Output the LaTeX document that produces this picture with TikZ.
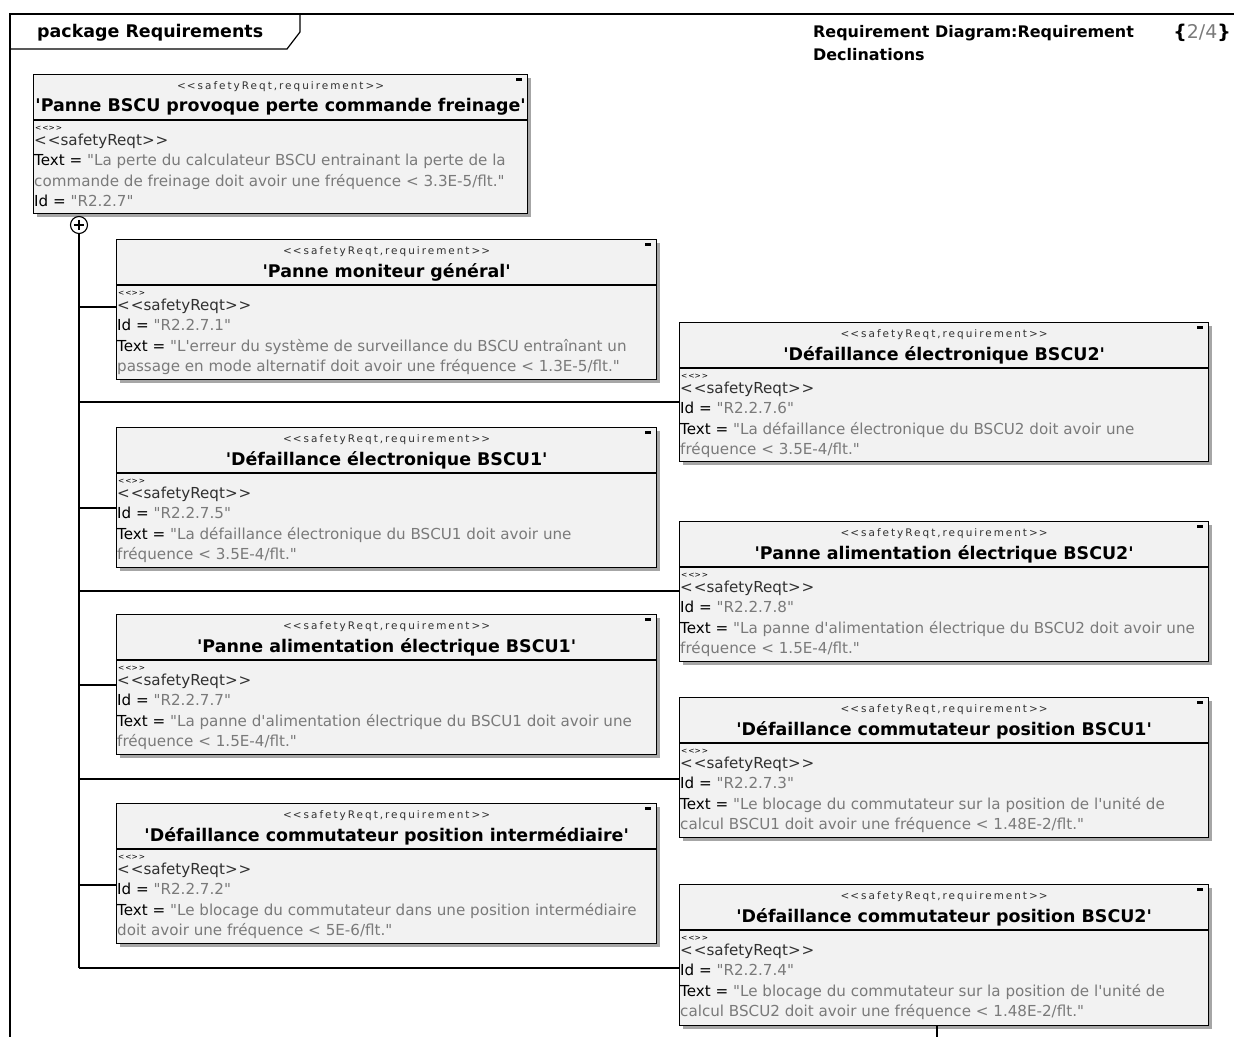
\documentclass[tikz,border=0pt]{standalone}
\usepackage{fontspec}
\setmainfont{DejaVu Sans}[Ligatures=TeXOff]
\newfontfamily\stfont{DejaVu Sans}[Ligatures=TeXOff,LetterSpace=19]
\usetikzlibrary{shadows}
\definecolor{boxfill}{HTML}{F2F2F2}
\definecolor{valgray}{HTML}{7A7A7A}
\definecolor{stgray}{HTML}{303030}
\newcommand\stl{<\kern1bp<}
\newcommand\stg{>\kern1bp>}
\newcommand\V[1]{\textcolor{valgray}{#1}}
\newcommand\SR{\textcolor{stgray}{\stl safetyReqt\stg}}
\tikzset{
 rbox/.style={draw=black, line width=1.3bp, fill=boxfill, inner sep=0pt, drop shadow={shadow xshift=3bp, shadow yshift=-3bp, fill=black!35, opacity=1}},
 bline/.style={line width=1.3bp},
 conn/.style={line width=1.2bp},
 stereo/.style={inner sep=0pt, font=\stfont\fontsize{10.5}{11}\selectfont, text=stgray},
 rtitle/.style={inner sep=0pt, font=\bfseries\fontsize{17.5}{18}\selectfont},
 emptyst/.style={inner sep=0pt, anchor=west, font=\fontsize{7.5}{8}\selectfont},
 body/.style={inner sep=0pt, anchor=base west, align=left, font=\fontsize{15.2}{20.5}\selectfont},
 hdr/.style={inner sep=0pt, font=\bfseries\fontsize{16}{22}\selectfont},
}
% name, x1, y1, x2, y2, title, body
\newcommand\reqbox[7]{%
 \node[rbox, anchor=north west, minimum width={(#4-#2)*1bp}, minimum height={(#5-#3)*1bp}] (#1) at (#2,#3) {};
 \draw[bline] ([yshift=-46bp]#1.north west) -- ([yshift=-46bp]#1.north east);
 \node[stereo] (#1-st) at ([yshift=-13bp]#1.north) {\stl safetyReqt,requirement\stg};
 \node[rtitle] (#1-ti) at ([yshift=-33bp]#1.north) {#6};
 \node[emptyst] (#1-e) at ([xshift=2bp, yshift=-54bp]#1.north west) {\stl\stg};
 \node[body] (#1-b) at ([xshift=1bp,yshift=-132.5bp]#1.north west) {#7};
 \fill ([xshift=-12bp,yshift=-4bp]#1.north east) rectangle ++(6bp,-3bp);
}
\begin{document}
\begin{tikzpicture}[x=1bp,y=-1bp]
\useasboundingbox (0,0) rectangle (1234,1037);
% frame
\draw[conn] (10,1037) -- (10,14) -- (1234,14);
\draw[conn] (300,14) -- (300,32) -- (287,49) -- (10,49);
\node[hdr, anchor=west, font=\bfseries\fontsize{17.5}{22}\selectfont] (pkg) at (37,33) {package Requirements};
\node[hdr, anchor=west] (dg1) at (813,33) {Requirement Diagram:Requirement};
\node[hdr, anchor=east, font=\bfseries\fontsize{19}{22}\selectfont] (dg3) at (1231,33) {\{\textcolor{valgray}{\mdseries 2/4}\}};
\node[hdr, anchor=west] (dg2) at (813,55) {Declinations};

\reqbox{root}{33}{74}{527}{213}{'Panne BSCU provoque perte commande freinage'}{\SR\\
Text = \V{"La perte du calculateur BSCU entrainant la perte de la}\\
\V{commande de freinage doit avoir une fréquence < 3.3E-5/flt."}\\
Id = \V{"R2.2.7"}}

\reqbox{l1}{116}{239}{656}{379}{'Panne moniteur général'}{\SR\\
Id = \V{"R2.2.7.1"}\\
Text = \V{"L'erreur du système de surveillance du BSCU entraînant un}\\
\V{passage en mode alternatif doit avoir une fréquence < 1.3E-5/flt."}}

\reqbox{l2}{116}{427}{656}{567}{'Défaillance électronique BSCU1'}{\SR\\
Id = \V{"R2.2.7.5"}\\
Text = \V{"La défaillance électronique du BSCU1 doit avoir une}\\
\V{fréquence < 3.5E-4/flt."}}

\reqbox{l3}{116}{614}{656}{754}{'Panne alimentation électrique BSCU1'}{\SR\\
Id = \V{"R2.2.7.7"}\\
Text = \V{"La panne d'alimentation électrique du BSCU1 doit avoir une}\\
\V{fréquence < 1.5E-4/flt."}}

\reqbox{l4}{116}{803}{656}{943}{'Défaillance commutateur position intermédiaire'}{\SR\\
Id = \V{"R2.2.7.2"}\\
Text = \V{"Le blocage du commutateur dans une position intermédiaire}\\
\V{doit avoir une fréquence < 5E-6/flt."}}

\reqbox{r1}{679}{322}{1208}{461}{'Défaillance électronique BSCU2'}{\SR\\
Id = \V{"R2.2.7.6"}\\
Text = \V{"La défaillance électronique du BSCU2 doit avoir une}\\
\V{fréquence < 3.5E-4/flt."}}

\reqbox{r2}{679}{521}{1208}{661}{'Panne alimentation électrique BSCU2'}{\SR\\
Id = \V{"R2.2.7.8"}\\
Text = \V{"La panne d'alimentation électrique du BSCU2 doit avoir une}\\
\V{fréquence < 1.5E-4/flt."}}

\reqbox{r3}{679}{697}{1208}{837}{'Défaillance commutateur position BSCU1'}{\SR\\
Id = \V{"R2.2.7.3"}\\
Text = \V{"Le blocage du commutateur sur la position de l'unité de}\\
\V{calcul BSCU1 doit avoir une fréquence < 1.48E-2/flt."}}

\reqbox{r4}{679}{884}{1208}{1025}{'Défaillance commutateur position BSCU2'}{\SR\\
Id = \V{"R2.2.7.4"}\\
Text = \V{"Le blocage du commutateur sur la position de l'unité de}\\
\V{calcul BSCU2 doit avoir une fréquence < 1.48E-2/flt."}}

% containment connector
\node[circle, draw, line width=1.1bp, minimum size=17bp, inner sep=0pt, fill=white] (plus) at (79,225) {};
\draw[line width=1.1bp] ([xshift=4bp]plus.west) -- ([xshift=-4bp]plus.east);
\draw[line width=1.1bp] ([yshift=-4bp]plus.north) -- ([yshift=4bp]plus.south);
\coordinate (j1) at (79,307);
\coordinate (j2) at (79,402);
\coordinate (j3) at (79,508);
\coordinate (j4) at (79,591);
\coordinate (j5) at (79,685);
\coordinate (j6) at (79,779);
\coordinate (j7) at (79,885);
\coordinate (j8) at (79,968);
\draw[conn] (plus.south) -- (j8);
\draw[conn] (j1) -- (l1.west |- j1);
\draw[conn] (j2) -- (r1.west |- j2);
\draw[conn] (j3) -- (l2.west |- j3);
\draw[conn] (j4) -- (r2.west |- j4);
\draw[conn] (j5) -- (l3.west |- j5);
\draw[conn] (j6) -- (r3.west |- j6);
\draw[conn] (j7) -- (l4.west |- j7);
\draw[conn] (j8) -- (r4.west |- j8);
\coordinate (stub) at (937,1037);
\draw[conn] (r4.south -| stub) -- (stub);
\end{tikzpicture}
\end{document}
